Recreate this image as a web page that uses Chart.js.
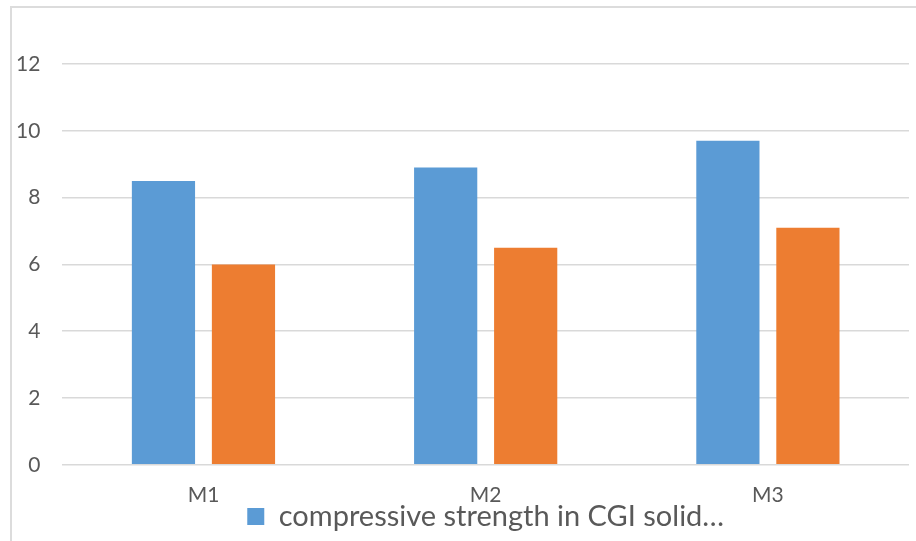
<!DOCTYPE html>
<html>
<head>
<meta charset="utf-8">
<script src="https://cdn.jsdelivr.net/npm/chart.js@4"></script>
<style>
  html, body { margin: 0; padding: 0; background: #fff; overflow: hidden; }
  #wrap { position: relative; width: 916px; height: 541px; }
  #frame { position: absolute; left: 10px; top: 6px; width: 1000px; height: 1000px;
           border-top: 2px solid #dcdcdc; border-left: 2px solid #dcdcdc; }
  canvas { position: absolute; left: 0; top: 0; }
</style>
</head>
<body>
<div id="wrap">
  <div id="frame"></div>
  <canvas id="chart" width="916" height="541"></canvas>
</div>
<script>
// categories and series
const categories = ['M1', 'M2', 'M3'];
const seriesNames = ['compressive strength in CGI solid…', 'compressive strength in CGI hollow…'];
const solidValues = [8.5, 8.9, 9.7];
const hollowValues = [6.0, 6.5, 7.1];
const yMax = 12;
const yStep = 2;

const textColor = '#595959';
const fontFamily = 'Lato, "Liberation Sans", sans-serif';

new Chart(document.getElementById('chart'), {
  type: 'bar',
  data: {
    labels: categories,
    datasets: [
      { label: seriesNames[0], data: solidValues, backgroundColor: '#5b9bd5',
        categoryPercentage: 0.567, barPercentage: 0.79 },
      { label: seriesNames[1], data: hollowValues, backgroundColor: '#ed7d31',
        categoryPercentage: 0.567, barPercentage: 0.79 }
    ]
  },
  options: {
    responsive: false,
    animation: false,
    layout: { padding: { left: -6, right: 7, top: 64, bottom: 0 } },
    scales: {
      x: {
        grid: { display: false, drawTicks: false },
        border: { display: false },
        ticks: { color: textColor, padding: 18, font: { family: fontFamily, size: 21 } },
        // legend sits right under the labels, as in the original
        afterFit: (axis) => { axis.height -= 24; }
      },
      y: {
        min: 0,
        max: yMax,
        grid: { color: '#d9d9d9', lineWidth: 1.5, drawTicks: false },
        border: { display: false },
        ticks: { stepSize: yStep, color: textColor, padding: 22, font: { family: fontFamily, size: 21 } }
      }
    },
    plugins: {
      tooltip: { enabled: false },
      legend: {
        position: 'bottom',
        fullSize: false,
        labels: {
          filter: (item) => item.datasetIndex === 0,
          boxWidth: 17,
          boxHeight: 17,
          padding: 0,
          color: textColor,
          font: { family: fontFamily, size: 29, lineHeight: 1 }
        }
      }
    }
  }
});
</script>
</body>
</html>
